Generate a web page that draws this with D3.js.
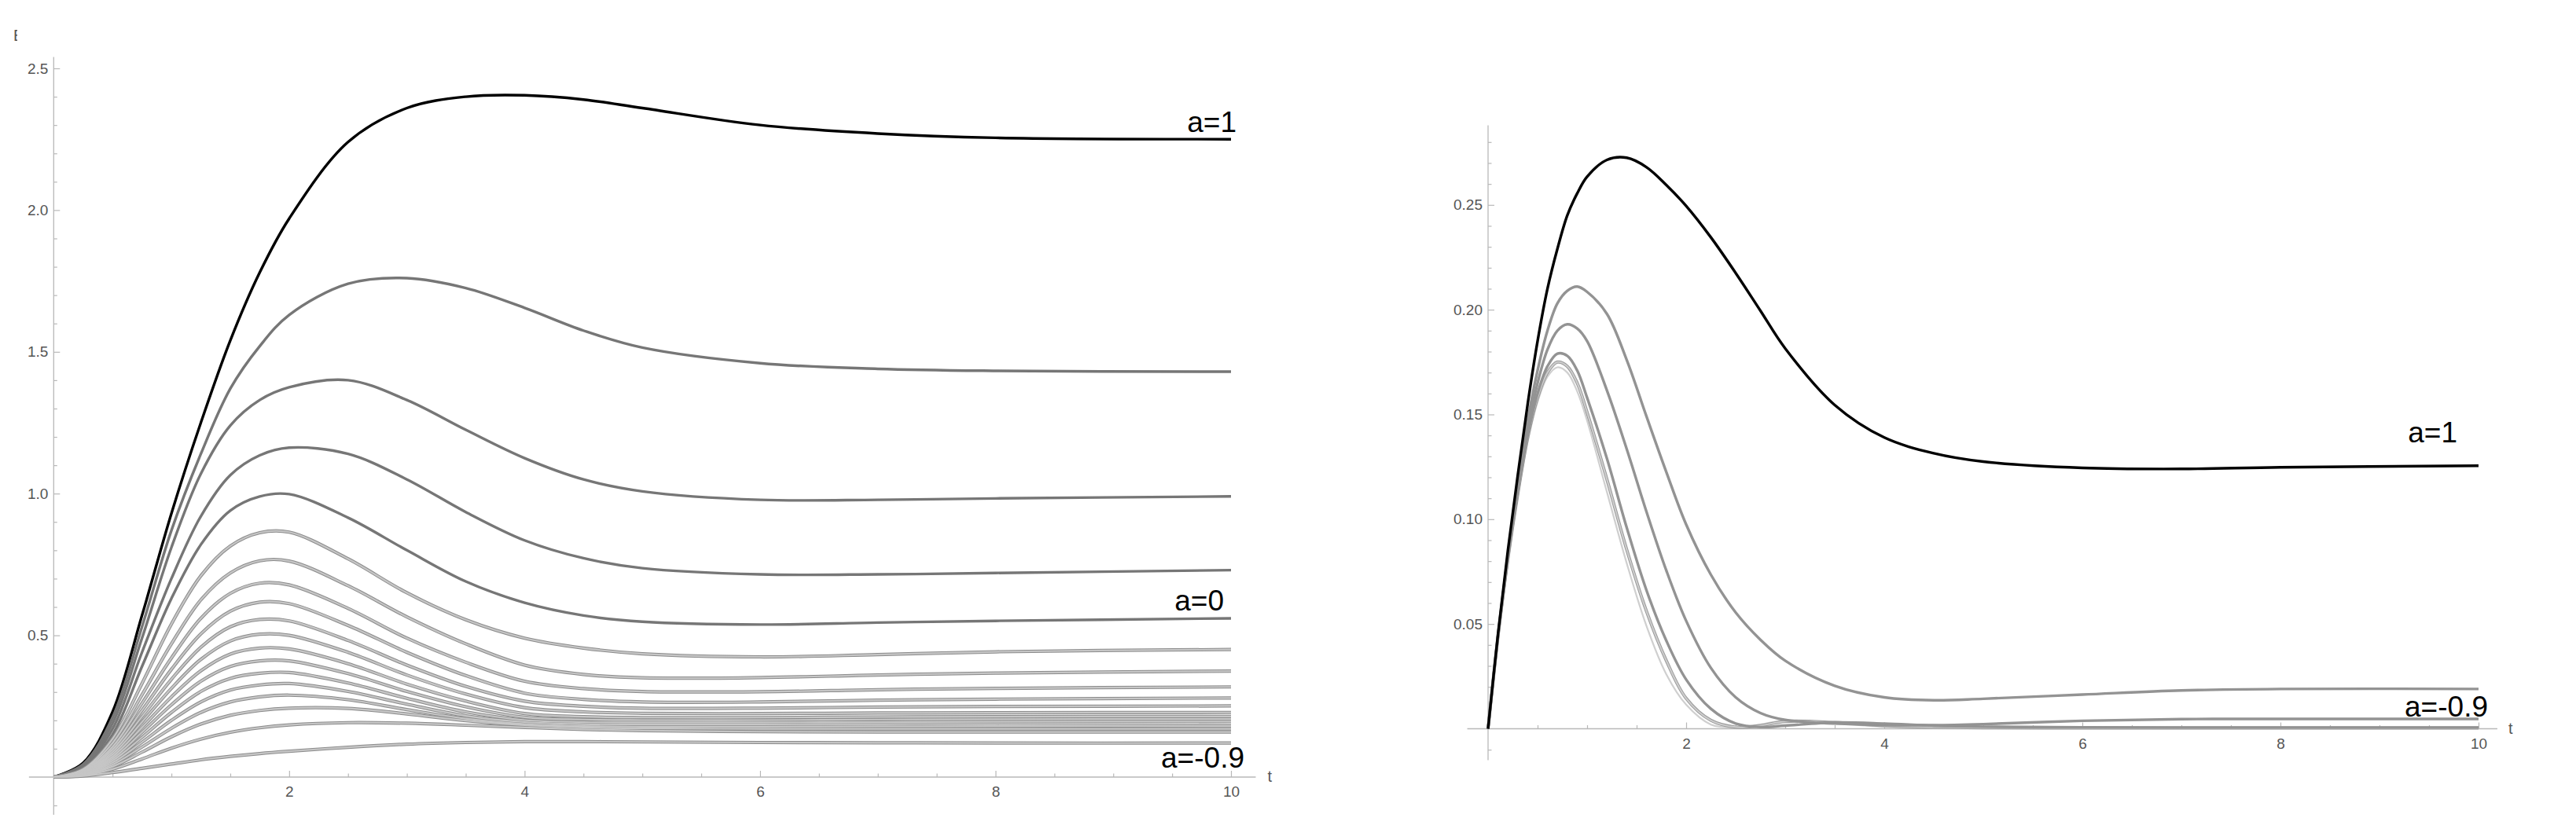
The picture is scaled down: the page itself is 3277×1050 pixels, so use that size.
<!DOCTYPE html>
<html lang="en">
  <head>
    <meta charset="utf-8">
    <title>E(t) for several a</title>
    <script type="text/javascript" src="https://cdn.jsdelivr.net/npm/d3@7"></script>
<style>
body { margin: 0; background: #fff; }
svg { display: block; }
.axis line { stroke: #b8b8b8; stroke-width: 1.2px; }
.axis text { fill: #555; font-family: "Liberation Sans", Arial, sans-serif; font-size: 19px; }
.axisline { stroke: #b8b8b8; stroke-width: 1.3px; }
.lbl { font-family: "Liberation Sans", Arial, sans-serif; font-size: 37px; fill: #000; }
.ttl { font-family: "Liberation Sans", Arial, sans-serif; font-size: 20px; fill: #555; }
path.curve { fill: none; stroke-linejoin: round; stroke-linecap: butt; }
</style>
  </head>
  <body>
    <script type="text/javascript">
      //
      // Left panel: E(t), t sampled on tLeft
      //
      var tLeft = [0, 0.25, 0.5, 0.75, 1, 1.25, 1.5, 1.75, 2, 2.5, 3, 3.5, 4, 4.5, 5, 6, 7, 8, 10];

      // a = 1 (black)
      var leftTop = [0, 0.05, 0.23, 0.57, 0.93, 1.25, 1.54, 1.78, 1.97, 2.24, 2.36, 2.40, 2.405, 2.39, 2.36, 2.30, 2.27, 2.255, 2.25];

      // dark grey curves, the last one is a = 0
      var leftDark = [
        [0, 0.045, 0.21, 0.53, 0.87, 1.14, 1.37, 1.52, 1.63, 1.74, 1.76, 1.725, 1.655, 1.575, 1.515, 1.46, 1.44, 1.433, 1.43],
        [0, 0.04, 0.19, 0.49, 0.81, 1.07, 1.24, 1.33, 1.375, 1.40, 1.33, 1.225, 1.125, 1.05, 1.008, 0.978, 0.978, 0.983, 0.99],
        [0, 0.035, 0.17, 0.44, 0.70, 0.92, 1.065, 1.135, 1.162, 1.14, 1.05, 0.935, 0.835, 0.772, 0.737, 0.715, 0.715, 0.72, 0.73],
        [0, 0.03, 0.15, 0.39, 0.63, 0.82, 0.94, 0.99, 0.998, 0.915, 0.80, 0.69, 0.615, 0.57, 0.548, 0.538, 0.545, 0.551, 0.56]
      ];

      // light grey curves, the last one is a = -0.9
      var leftLight = [
        [0, 0.028, 0.135, 0.33, 0.54, 0.71, 0.815, 0.862, 0.864, 0.77, 0.65, 0.555, 0.49, 0.455, 0.435, 0.424, 0.432, 0.442, 0.450],
        [0, 0.025, 0.12, 0.29, 0.47, 0.625, 0.72, 0.763, 0.762, 0.675, 0.565, 0.47, 0.395, 0.362, 0.35, 0.351, 0.36, 0.367, 0.374],
        [0, 0.022, 0.107, 0.26, 0.42, 0.56, 0.648, 0.684, 0.678, 0.595, 0.49, 0.405, 0.338, 0.312, 0.302, 0.301, 0.308, 0.313, 0.318],
        [0, 0.02, 0.097, 0.235, 0.38, 0.505, 0.585, 0.617, 0.612, 0.535, 0.44, 0.358, 0.296, 0.274, 0.265, 0.265, 0.271, 0.275, 0.279],
        [0, 0.018, 0.088, 0.213, 0.345, 0.458, 0.53, 0.556, 0.551, 0.482, 0.395, 0.32, 0.268, 0.25, 0.243, 0.243, 0.247, 0.249, 0.251],
        [0, 0.016, 0.08, 0.194, 0.313, 0.415, 0.48, 0.504, 0.50, 0.44, 0.36, 0.293, 0.245, 0.23, 0.225, 0.224, 0.226, 0.227, 0.228],
        [0, 0.015, 0.072, 0.175, 0.283, 0.375, 0.434, 0.455, 0.452, 0.40, 0.328, 0.268, 0.224, 0.213, 0.21, 0.21, 0.212, 0.213, 0.214],
        [0, 0.013, 0.065, 0.158, 0.255, 0.338, 0.39, 0.41, 0.41, 0.365, 0.302, 0.248, 0.211, 0.203, 0.201, 0.201, 0.203, 0.204, 0.205],
        [0, 0.012, 0.058, 0.14, 0.228, 0.302, 0.348, 0.366, 0.369, 0.332, 0.278, 0.23, 0.201, 0.194, 0.193, 0.193, 0.194, 0.195, 0.196],
        [0, 0.011, 0.051, 0.123, 0.2, 0.265, 0.307, 0.325, 0.33, 0.302, 0.257, 0.216, 0.194, 0.187, 0.186, 0.186, 0.187, 0.187, 0.188],
        [0, 0.009, 0.044, 0.106, 0.172, 0.228, 0.265, 0.283, 0.289, 0.273, 0.238, 0.206, 0.187, 0.18, 0.178, 0.178, 0.179, 0.18, 0.18],
        [0, 0.008, 0.037, 0.088, 0.142, 0.187, 0.218, 0.235, 0.243, 0.242, 0.223, 0.199, 0.183, 0.175, 0.172, 0.17, 0.17, 0.17, 0.17],
        [0, 0.006, 0.028, 0.064, 0.102, 0.134, 0.158, 0.174, 0.184, 0.192, 0.19, 0.183, 0.175, 0.168, 0.164, 0.16, 0.159, 0.159, 0.159],
        [0, 0.004, 0.016, 0.031, 0.046, 0.061, 0.073, 0.083, 0.091, 0.105, 0.116, 0.122, 0.125, 0.125, 0.124, 0.122, 0.121, 0.12, 0.12]
      ];

      //
      // Right panel, t sampled on tRight
      //
      var tRight = [0, 0.1, 0.2, 0.3, 0.4, 0.5, 0.6, 0.7, 0.8, 0.9, 1.0, 1.2, 1.4, 1.6, 1.8, 2, 2.25, 2.5, 2.75, 3, 3.5, 4, 4.5, 5, 6, 7, 8, 10];

      var rightTop = [0, 0.045, 0.085, 0.121, 0.155, 0.185, 0.21, 0.229, 0.245, 0.2555, 0.2635, 0.2715, 0.2725, 0.268, 0.2595, 0.2495, 0.2345, 0.2175, 0.1995, 0.1815, 0.1545, 0.139, 0.1315, 0.1275, 0.1245, 0.124, 0.1248, 0.1255];

      var rightMid = [
        [0, 0.044, 0.083, 0.117, 0.147, 0.171, 0.19, 0.203, 0.209, 0.211, 0.2085, 0.198, 0.176, 0.149, 0.1225, 0.0975, 0.0735, 0.0555, 0.0425, 0.0325, 0.0205, 0.015, 0.0136, 0.0143, 0.0163, 0.0183, 0.019, 0.019],
        [0, 0.044, 0.082, 0.115, 0.143, 0.165, 0.181, 0.19, 0.193, 0.191, 0.185, 0.1615, 0.1335, 0.1035, 0.0755, 0.0515, 0.029, 0.015, 0.0075, 0.0042, 0.0025, 0.0018, 0.0017, 0.0022, 0.0038, 0.0046, 0.0047, 0.0047],
        [0, 0.044, 0.081, 0.113, 0.14, 0.16, 0.173, 0.179, 0.178, 0.171, 0.158, 0.129, 0.096, 0.066, 0.042, 0.0235, 0.0095, 0.0025, 0.0008, 0.0015, 0.003, 0.0025, 0.0015, 0.001, 0.0007, 0.0006, 0.0006, 0.0006]
      ];

      var rightLight = [
        [0, 0.044, 0.081, 0.112, 0.139, 0.158, 0.17, 0.175, 0.173, 0.165, 0.151, 0.119, 0.0855, 0.056, 0.0325, 0.0145, 0.004, 0.0008, 0.0015, 0.0035, 0.003, 0.0015, 0.0008, 0.0005, 0.0004, 0.0004, 0.0004, 0.0004],
        [0, 0.044, 0.081, 0.111, 0.137, 0.156, 0.168, 0.1725, 0.170, 0.161, 0.147, 0.113, 0.079, 0.049, 0.026, 0.0115, 0.002, 0.0006, 0.002, 0.004, 0.0025, 0.001, 0.0005, 0.0003, 0.0002, 0.0002, 0.0002, 0.0002]
      ];

      // ticks
      var xTicks = [2, 4, 6, 8, 10];
      var yTicksLeft = [0.5, 1.0, 1.5, 2.0, 2.5];
      var yTicksRight = [0.05, 0.10, 0.15, 0.20, 0.25];

      var width = 3277;
      var height = 1050;

      var svg = d3.select("body")
        .append("svg")
        .attr("width", width)
        .attr("height", height);

      // one panel: axes with inward ticks, then the curves
      function panel(x, y, t, xMinor, yMinor, xEnds, yEnds, yFmt, yTicks) {
        var g = svg.append("g");

        g.append("line").attr("class", "axisline")
          .attr("x1", x(xEnds[0])).attr("x2", x(xEnds[1]))
          .attr("y1", y(0)).attr("y2", y(0));
        g.append("line").attr("class", "axisline")
          .attr("x1", x(0)).attr("x2", x(0))
          .attr("y1", y(yEnds[0])).attr("y2", y(yEnds[1]));

        var ax = g.append("g").attr("class", "axis")
          .attr("transform", "translate(0," + y(0) + ")")
          .call(d3.axisBottom(x).tickValues(xTicks).tickSize(-8).tickPadding(12));
        ax.select(".domain").remove();
        var axm = g.append("g").attr("class", "axis")
          .attr("transform", "translate(0," + y(0) + ")")
          .call(d3.axisBottom(x).tickValues(xMinor).tickFormat("").tickSize(-4.5));
        axm.select(".domain").remove();

        var ay = g.append("g").attr("class", "axis")
          .attr("transform", "translate(" + x(0) + ",0)")
          .call(d3.axisLeft(y).tickValues(yTicks).tickFormat(d3.format(yFmt)).tickSize(-8).tickPadding(7));
        ay.select(".domain").remove();
        var aym = g.append("g").attr("class", "axis")
          .attr("transform", "translate(" + x(0) + ",0)")
          .call(d3.axisLeft(y).tickValues(yMinor).tickFormat("").tickSize(-4.5));
        aym.select(".domain").remove();

        var line = d3.line()
          .x(function(d, i) { return x(t[i]); })
          .y(function(d) { return y(d); })
          .curve(d3.curveCatmullRom.alpha(0.5));
        return { g: g, line: line };
      }

      function draw(p, series, color, w) {
        p.g.selectAll(null)
          .data(series)
          .enter()
          .append("path")
          .attr("class", "curve")
          .attr("d", p.line)
          .attr("stroke", color)
          .attr("stroke-width", w);
      }

      //
      // left
      //
      var xL = d3.scaleLinear().domain([0, 10]).range([68.3, 1566]);
      var yL = d3.scaleLinear().domain([0, 2.5]).range([989, 87]);
      var xMinorL = d3.range(1, 21).filter(function(k) { return k % 4 != 0; }).map(function(k) { return k / 2; });
      var yMinorL = d3.range(-1, 26).filter(function(k) { return k % 5 != 0; }).map(function(k) { return k / 10; });
      var pL = panel(xL, yL, tLeft, xMinorL, yMinorL, [-0.21, 10.21], [-0.133, 2.54], ".1f", yTicksLeft);

      draw(pL, [leftTop], "#000", 3.4);
      draw(pL, leftDark, "#767676", 3.4);
      // light curves: darker rim, pale core
      draw(pL, leftLight, "#8c8c8c", 4.2);
      draw(pL, leftLight, "#c6c6c6", 2.2);

      pL.g.append("text").attr("class", "lbl").attr("text-anchor", "end")
        .attr("x", xL(10) + 7).attr("y", yL(leftTop[leftTop.length - 1]) - 9).text("a=1");
      pL.g.append("text").attr("class", "lbl").attr("text-anchor", "end")
        .attr("x", xL(10) - 9).attr("y", yL(leftDark[3][leftDark[3].length - 1]) - 10).text("a=0");
      pL.g.append("text").attr("class", "lbl").attr("text-anchor", "end")
        .attr("x", xL(10) + 17).attr("y", yL(0) - 12).text("a=-0.9");
      pL.g.append("text").attr("class", "ttl")
        .attr("x", xL(10.21) + 15).attr("y", yL(0) + 6).text("t");

      // clipped E at top left
      svg.append("clipPath").attr("id", "eclip")
        .append("rect").attr("x", 0).attr("y", 30).attr("width", 22).attr("height", 30);
      svg.append("text").attr("class", "ttl").attr("clip-path", "url(#eclip)")
        .attr("x", 17).attr("y", 52).text("E");

      //
      // right
      //
      var xR = d3.scaleLinear().domain([0, 10]).range([1893, 3153]);
      var yR = d3.scaleLinear().domain([0, 0.25]).range([927.5, 260.8]);
      var xMinorR = xMinorL;
      var yMinorR = d3.range(-1, 29).filter(function(k) { return k % 5 != 0; }).map(function(k) { return k / 100; });
      var pR = panel(xR, yR, tRight, xMinorR, yMinorR, [-0.21, 10.19], [-0.015, 0.288], ".2f", yTicksRight);

      draw(pR, [rightLight[1]], "#cfcfcf", 2.2);
      draw(pR, [rightLight[0]], "#9a9a9a", 4.0);
      draw(pR, [rightLight[0]], "#cdcdcd", 2.0);
      draw(pR, rightMid, "#939393", 3.4);
      draw(pR, [rightTop], "#000", 3.4);

      pR.g.append("text").attr("class", "lbl").attr("text-anchor", "end")
        .attr("x", xR(10) - 27).attr("y", yR(rightTop[rightTop.length - 1]) - 30).text("a=1");
      pR.g.append("text").attr("class", "lbl").attr("text-anchor", "end")
        .attr("x", xR(10) + 12).attr("y", yR(rightMid[1][rightMid[1].length - 1]) - 3).text("a=-0.9");
      pR.g.append("text").attr("class", "ttl")
        .attr("x", xR(10.19) + 14).attr("y", yR(0) + 6).text("t");
    </script>
  </body>
</html>
